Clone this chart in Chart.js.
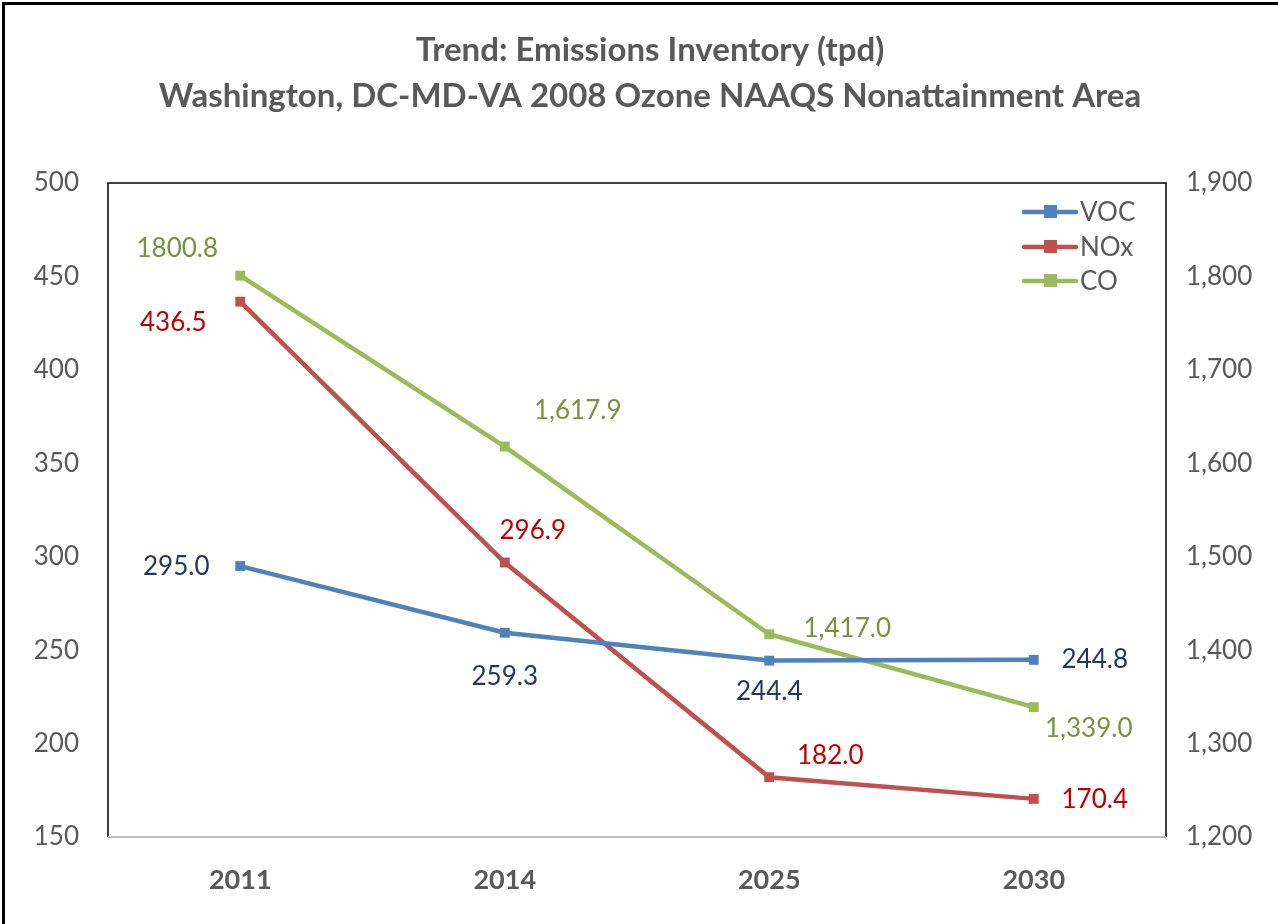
<!DOCTYPE html>
<html>
<head>
<meta charset="utf-8">
<script src="https://cdn.jsdelivr.net/npm/chart.js@4.4.1/dist/chart.umd.min.js"></script>
<style>
  html, body { margin: 0; padding: 0; background: #fff; }
  #wrap { width: 1278px; height: 924px; position: relative; }
</style>
</head>
<body>
<div id="wrap"><canvas id="chart" width="1278" height="924"></canvas></div>
<script>
const years = ['2011', '2014', '2025', '2030'];
const vocValues = [295.0, 259.3, 244.4, 244.8];
const noxValues = [436.5, 296.9, 182.0, 170.4];
const coValues = [1800.8, 1617.9, 1417.0, 1339.0];
const vocLabels = ['295.0', '259.3', '244.4', '244.8'];
const noxLabels = ['436.5', '296.9', '182.0', '170.4'];
const coLabels = ['1800.8', '1,617.9', '1,417.0', '1,339.0'];

const FONT = 'Lato, "Open Sans", sans-serif';
const GREY = '#595959';

// label offsets from each point (dx, dy), per series
const labelOffsets = [
  [[-64, 1], [0, 44], [0, 31], [61, 0]],
  [[-67, 21], [28, -32], [61, -22], [61, 1]],
  [[-63, -27], [73, -36], [78, -6], [55, 21]]
];
const labelColors = ['#1F3864', '#C00000', '#77933C'];
const labelTexts = [vocLabels, noxLabels, coLabels];

const decor = {
  id: 'decor',
  beforeDraw(chart) {
    const ctx = chart.ctx;
    ctx.save();
    ctx.fillStyle = '#000';
    ctx.fillRect(2, 2, 1278, 3);
    ctx.fillRect(2, 2, 3, 924);
    ctx.fillStyle = GREY;
    ctx.font = 'bold 33px ' + FONT;
    ctx.textAlign = 'center';
    ctx.textBaseline = 'middle';
    ctx.fillText('Trend: Emissions Inventory (tpd)', 650, 50);
    ctx.fillText('Washington, DC-MD-VA 2008 Ozone NAAQS Nonattainment Area', 650, 96);
    ctx.restore();
  },
  afterDatasetsDraw(chart) {
    const ctx = chart.ctx;
    const a = chart.chartArea;
    ctx.save();
    // plot border
    ctx.strokeStyle = '#000';
    ctx.lineWidth = 1.5;
    ctx.beginPath();
    ctx.moveTo(a.left, a.bottom);
    ctx.lineTo(a.left, a.top);
    ctx.lineTo(a.right, a.top);
    ctx.lineTo(a.right, a.bottom);
    ctx.stroke();
    ctx.strokeStyle = '#BFBFBF';
    ctx.lineWidth = 2;
    ctx.beginPath();
    ctx.moveTo(a.left, a.bottom);
    ctx.lineTo(a.right, a.bottom);
    ctx.stroke();

    // data labels
    ctx.font = '26px ' + FONT;
    ctx.textAlign = 'center';
    ctx.textBaseline = 'middle';
    chart.data.datasets.forEach((ds, i) => {
      const meta = chart.getDatasetMeta(i);
      ctx.fillStyle = labelColors[i];
      meta.data.forEach((pt, j) => {
        const off = labelOffsets[i][j];
        ctx.fillText(labelTexts[i][j], pt.x + off[0], pt.y + off[1]);
      });
    });

    // legend
    const lx = 1024, ly = [212, 247, 281];
    ctx.textAlign = 'left';
    chart.data.datasets.forEach((ds, i) => {
      ctx.strokeStyle = ds.borderColor;
      ctx.lineWidth = 4.5;
      ctx.lineCap = 'round';
      ctx.beginPath();
      ctx.moveTo(lx, ly[i]);
      ctx.lineTo(lx + 52, ly[i]);
      ctx.stroke();
      ctx.fillStyle = ds.borderColor;
      ctx.fillRect(lx + 20, ly[i] - 7, 13, 13);
      ctx.fillStyle = GREY;
      ctx.fillText(ds.label, lx + 56, ly[i] + 1);
    });
    ctx.restore();
  }
};

new Chart(document.getElementById('chart'), {
  type: 'line',
  data: {
    labels: years,
    datasets: [
      { label: 'VOC', data: vocValues, yAxisID: 'y', borderColor: '#4F81BD', backgroundColor: '#4F81BD' },
      { label: 'NOx', data: noxValues, yAxisID: 'y', borderColor: '#C0504D', backgroundColor: '#C0504D' },
      { label: 'CO', data: coValues, yAxisID: 'y1', borderColor: '#9BBB59', backgroundColor: '#9BBB59' }
    ]
  },
  options: {
    responsive: false,
    animation: false,
    elements: {
      line: { borderWidth: 4.5, tension: 0 },
      point: { pointStyle: 'rect', radius: 7, borderWidth: 0 }
    },
    layout: { padding: { top: 183, left: 0, right: 0, bottom: 0 } },
    plugins: { legend: { display: false }, tooltip: { enabled: false } },
    scales: {
      x: {
        offset: true,
        grid: { display: false, drawTicks: false },
        border: { display: false },
        ticks: { color: GREY, font: { family: FONT, size: 27, weight: 'bold' }, padding: 27 },
        afterFit(s) { s.height = 87; }
      },
      y: {
        position: 'left',
        min: 150, max: 500,
        grid: { display: false, drawTicks: false },
        border: { display: false },
        ticks: { stepSize: 50, color: GREY, font: { family: FONT, size: 26 }, padding: 29 },
        afterFit(s) { s.width = 108; }
      },
      y1: {
        position: 'right',
        min: 1200, max: 1900,
        grid: { display: false, drawTicks: false },
        border: { display: false },
        ticks: {
          stepSize: 100, color: GREY, font: { family: FONT, size: 26 }, padding: 20,
          callback: v => v.toLocaleString('en-US')
        },
        afterFit(s) { s.width = 112; }
      }
    }
  },
  plugins: [decor]
});
</script>
</body>
</html>
